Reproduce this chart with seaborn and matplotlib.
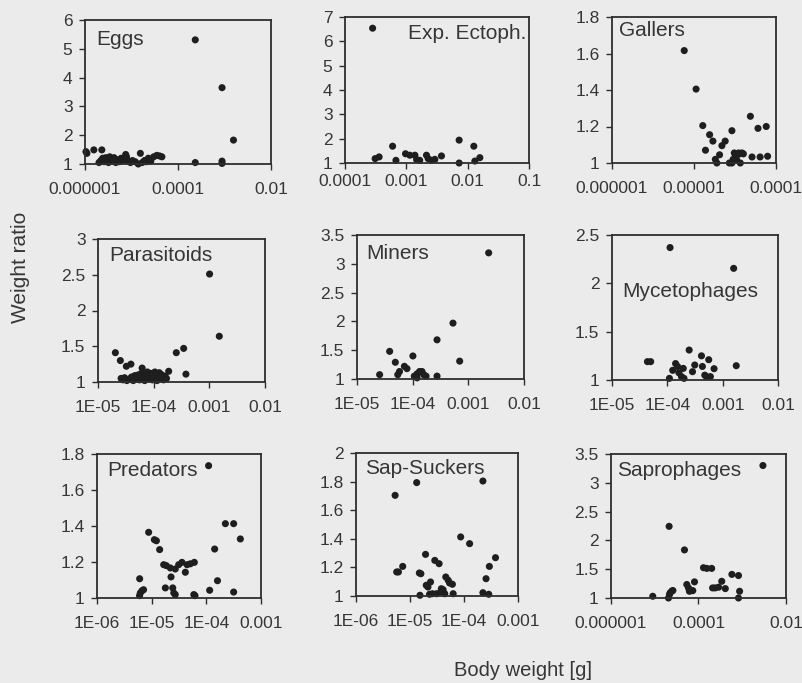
import numpy as np
import pandas as pd
import seaborn as sns
import matplotlib
matplotlib.use("Agg")
import matplotlib.pyplot as plt
from matplotlib.ticker import FixedLocator, FixedFormatter, FuncFormatter, NullLocator

# ---- data (body weight [g], weight ratio) ----
eggs_x = [1.05e-6, 1.1e-6, 1.55e-6, 2.3e-6, 2.0e-6, 2.2e-6, 2.4e-6, 2.6e-6, 2.8e-6, 3.0e-6,
          3.2e-6, 3.4e-6, 3.6e-6, 3.9e-6, 4.2e-6, 4.6e-6, 5.0e-6, 5.5e-6, 6.0e-6, 6.5e-6,
          7.5e-6, 7.8e-6, 8.5e-6, 9.5e-6, 1.05e-5, 1.2e-5, 1.4e-5, 1.55e-5, 1.7e-5, 1.9e-5,
          2.1e-5, 2.3e-5, 2.6e-5, 3.0e-5, 3.5e-5, 4.0e-5, 4.5e-5, 2.35e-4, 2.35e-4, 8.85e-4,
          8.85e-4, 8.85e-4, 1.56e-3]
eggs_y = [1.43, 1.37, 1.49, 1.49, 1.05, 1.12, 1.2, 1.08, 1.22, 1.15,
          1.05, 1.25, 1.18, 1.1, 1.22, 1.05, 1.15, 1.08, 1.2, 1.12,
          1.33, 1.25, 1.1, 1.05, 1.12, 1.08, 1.0, 1.37, 1.05, 1.12,
          1.08, 1.2, 1.1, 1.25, 1.3, 1.28, 1.25, 5.31, 1.05, 3.65,
          1.1, 1.02, 1.83]

exp_x = [2.82e-4, 3.1e-4, 3.6e-4, 5.97e-4, 6.77e-4, 9.7e-4, 1.14e-3, 1.38e-3, 1.47e-3, 1.65e-3,
         2.13e-3, 2.27e-3, 2.57e-3, 2.92e-3, 3.74e-3, 7.26e-3, 7.26e-3, 1.26e-2, 1.31e-2, 1.58e-2]
exp_y = [6.54, 1.18, 1.25, 1.69, 1.11, 1.38, 1.32, 1.32, 1.14, 1.11,
         1.32, 1.18, 1.11, 1.15, 1.29, 1.94, 1.0, 1.69, 1.08, 1.22]

gal_x = [7.6e-6, 1.06e-5, 1.28e-5, 1.38e-5, 1.55e-5, 1.7e-5, 1.82e-5, 1.9e-5, 2.05e-5, 2.19e-5,
         2.4e-5, 2.9e-5, 2.9e-5, 3.1e-5, 3.3e-5, 3.5e-5, 3.67e-5, 3.84e-5, 4.87e-5, 5.1e-5,
         6.03e-5, 6.4e-5, 7.6e-5, 7.9e-5, 3.2e-5, 3.6e-5, 4.0e-5, 2.7e-5, 3.0e-5]
gal_y = [1.616, 1.405, 1.205, 1.07, 1.155, 1.12, 1.02, 1.0, 1.045, 1.095,
         1.12, 1.177, 1.0, 1.055, 1.02, 1.055, 1.0, 1.055, 1.256, 1.033,
         1.19, 1.033, 1.2, 1.037, 1.04, 1.05, 1.05, 1.0, 1.02]

par_x = [2.05e-5, 2.52e-5, 3.23e-5, 3.9e-5, 6.2e-5, 1.86e-4, 2.55e-4, 3.46e-4, 3.8e-4, 1.01e-3,
         1.51e-3, 2.6e-5, 2.8e-5, 3.0e-5, 3.3e-5, 3.6e-5, 4.0e-5, 4.3e-5, 4.6e-5, 5.0e-5,
         5.3e-5, 5.6e-5, 6.0e-5, 6.5e-5, 6.9e-5, 7.3e-5, 7.7e-5, 8.1e-5, 8.6e-5, 9.0e-5,
         9.5e-5, 1.0e-4, 1.05e-4, 1.1e-4, 1.15e-4, 1.2e-4, 1.26e-4, 1.32e-4, 1.4e-4, 1.5e-4,
         1.6e-4, 1.7e-4]
par_y = [1.41, 1.3, 1.22, 1.25, 1.195, 1.15, 1.41, 1.47, 1.11, 2.51,
         1.64, 1.05, 1.03, 1.06, 1.02, 1.04, 1.07, 1.02, 1.09, 1.05,
         1.1, 1.03, 1.12, 1.06, 1.02, 1.1, 1.14, 1.05, 1.08, 1.12,
         1.03, 1.1, 1.14, 1.06, 1.02, 1.09, 1.13, 1.05, 1.1, 1.03,
         1.08, 1.05]

min_x = [2.55e-5, 3.86e-5, 4.88e-5, 5.4e-5, 5.8e-5, 7.1e-5, 7.9e-5, 1.01e-4, 1.07e-4, 1.2e-4,
         1.33e-4, 1.47e-4, 1.58e-4, 1.74e-4, 1.2e-4, 2.74e-4, 2.74e-4, 5.3e-4, 6.99e-4, 2.32e-3]
min_y = [1.075, 1.48, 1.29, 1.075, 1.13, 1.22, 1.18, 1.40, 1.05, 1.09,
         1.13, 1.13, 1.075, 1.05, 1.02, 1.68, 1.05, 1.97, 1.31, 3.19]

myc_x = [4.37e-5, 5.0e-5, 1.12e-4, 1.58e-3, 1.09e-4, 1.25e-4, 1.41e-4, 1.53e-4, 1.62e-4, 1.8e-4,
         1.94e-4, 2.0e-4, 2.48e-4, 2.85e-4, 3.13e-4, 4.14e-4, 4.3e-4, 4.75e-4, 5.1e-4, 5.6e-4,
         6.0e-4, 6.99e-4, 1.76e-3]
myc_y = [1.19, 1.19, 2.37, 2.155, 1.017, 1.10, 1.17, 1.14, 1.075, 1.035,
         1.12, 1.017, 1.31, 1.086, 1.155, 1.25, 1.14, 1.05, 1.035, 1.21,
         1.035, 1.117, 1.148]

pred_x = [6.03e-6, 6.2e-6, 6.65e-6, 7.1e-6, 6.0e-6, 8.81e-6, 1.12e-5, 1.22e-5, 1.40e-5, 1.66e-5,
          1.85e-5, 1.78e-5, 2.19e-5, 2.26e-5, 2.43e-5, 2.54e-5, 2.7e-5, 2.7e-5, 3.12e-5, 3.58e-5,
          4.13e-5, 4.45e-5, 5.1e-5, 6.03e-5, 5.9e-5, 6.2e-5, 1.1e-4, 1.15e-4, 1.42e-4, 1.6e-4,
          2.23e-4, 3.16e-4, 3.16e-4, 4.19e-4]
pred_y = [1.107, 1.028, 1.04, 1.046, 1.013, 1.365, 1.324, 1.318, 1.269, 1.185,
          1.18, 1.056, 1.167, 1.117, 1.056, 1.028, 1.019, 1.161, 1.185, 1.198,
          1.143, 1.185, 1.19, 1.198, 1.019, 1.013, 1.735, 1.043, 1.272, 1.096,
          1.413, 1.413, 1.033, 1.328]

sap_x = [5.3e-6, 5.67e-6, 6.1e-6, 7.33e-6, 1.33e-5, 1.49e-5, 1.59e-5, 1.53e-5, 1.94e-5, 2.0e-5,
         2.15e-5, 2.3e-5, 2.4e-5, 2.6e-5, 2.88e-5, 3.1e-5, 3.46e-5, 3.7e-5, 3.8e-5, 4.1e-5,
         4.4e-5, 4.6e-5, 5.1e-5, 5.4e-5, 6.1e-5, 6.3e-5, 8.68e-5, 1.27e-4, 2.24e-4, 2.24e-4,
         2.56e-4, 2.87e-4, 2.95e-4, 3.83e-4]
sap_y = [1.704, 1.168, 1.168, 1.207, 1.793, 1.161, 1.156, 1.005, 1.291, 1.075,
         1.063, 1.012, 1.098, 1.016, 1.249, 1.016, 1.226, 1.028, 1.051, 1.044,
         1.016, 1.133, 1.11, 1.091, 1.082, 1.016, 1.413, 1.366, 1.804, 1.023,
         1.121, 1.012, 1.207, 1.268]

spr_x = [9.0e-6, 2.06e-5, 2.17e-5, 2.25e-5, 2.45e-5, 2.6e-5, 2.13e-5, 4.78e-5, 5.4e-5, 5.9e-5,
         6.2e-5, 6.8e-5, 7.4e-5, 8.1e-5, 1.3e-4, 1.55e-4, 2.0e-4, 2.1e-4, 2.4e-4, 2.88e-4,
         3.4e-4, 4.1e-4, 5.8e-4, 8.2e-4, 8.7e-4, 8.2e-4, 2.97e-3]
spr_y = [1.03, 1.0, 1.06, 1.09, 1.12, 1.13, 2.244, 1.835, 1.234, 1.175,
         1.117, 1.128, 1.128, 1.28, 1.526, 1.514, 1.514, 1.175, 1.175, 1.187,
         1.29, 1.163, 1.41, 1.39, 1.117, 1.0, 3.3]

# tick labels as printed on the original
ticks_e6_e2 = ([1e-6, 1e-4, 1e-2], ["0.000001", "0.0001", "0.01"])
ticks_e4_e1 = ([1e-4, 1e-3, 1e-2, 1e-1], ["0.0001", "0.001", "0.01", "0.1"])
ticks_e6_e4 = ([1e-6, 1e-5, 1e-4], ["0.000001", "0.00001", "0.0001"])
ticks_e5_e2 = ([1e-5, 1e-4, 1e-3, 1e-2], ["1E-05", "1E-04", "0.001", "0.01"])
ticks_e6_e3 = ([1e-6, 1e-5, 1e-4, 1e-3], ["1E-06", "1E-05", "1E-04", "0.001"])

bg = "#ebebeb"
ink = "#363636"
dot = "#1e1e1e"
frame = "#2e2e2e"

sns.set_style("ticks")
plt.rcParams['font.family'] = ['Liberation Sans', 'DejaVu Sans']

W, H = 803, 683
fig = plt.figure(figsize=(W / 100, H / 100), dpi=100)
fig.patch.set_facecolor(bg)


def panel(box, xs, ys, name, ticks, ymax, ystep, lab_xy, ha='left', va='top', xpad=9):
    l, t, r, b = box
    ax = fig.add_axes([l / W, 1 - b / H, (r - l) / W, (b - t) / H])
    ax.set_facecolor('none')
    ax.set_xscale('log')
    df = pd.DataFrame({'weight': xs, 'ratio': ys})
    sns.scatterplot(data=df, x='weight', y='ratio', ax=ax, s=26, color=dot,
                    edgecolor='none', linewidth=0, clip_on=False, legend=False)
    tpos, tlab = ticks
    ax.set_xlim(tpos[0], tpos[-1])
    ax.xaxis.set_major_locator(FixedLocator(tpos))
    ax.xaxis.set_major_formatter(FixedFormatter(tlab))
    ax.xaxis.set_minor_locator(NullLocator())
    ax.set_ylim(1, ymax)
    ax.yaxis.set_major_locator(FixedLocator(np.arange(1, ymax + 1e-9, ystep)))
    ax.yaxis.set_major_formatter(FuncFormatter(lambda v, p: "%g" % round(v, 2)))
    ax.set_xlabel('')
    ax.set_ylabel('')
    for sp in ax.spines.values():
        sp.set_visible(True)
        sp.set_color(frame)
        sp.set_linewidth(1.3)
    ax.tick_params(axis='both', direction='out', length=4, width=1, color=frame,
                   labelcolor=ink, labelsize=12.5)
    ax.tick_params(axis='x', pad=xpad)
    ax.tick_params(axis='y', pad=5)
    ax.text(lab_xy[0], lab_xy[1], name, transform=ax.transAxes, ha=ha, va=va,
            fontsize=15, color=ink)
    return ax


panel((85, 20, 271, 164), eggs_x, eggs_y, "Eggs", ticks_e6_e2, 6, 1, (0.06, 0.93))
panel((345, 17, 529, 163), exp_x, exp_y, "Exp. Ectoph.", ticks_e4_e1, 7, 1, (0.985, 0.95),
      ha='right', xpad=4)
panel((612, 17, 776, 163), gal_x, gal_y, "Gallers", ticks_e6_e4, 1.8, 0.2, (0.04, 0.97))
panel((98, 239, 265, 382), par_x, par_y, "Parasitoids", ticks_e5_e2, 3, 0.5, (0.066, 0.95))
panel((357, 235, 524, 379), min_x, min_y, "Miners", ticks_e5_e2, 3.5, 0.5, (0.054, 0.94))
panel((612, 235, 778, 380), myc_x, myc_y, "Mycetophages", ticks_e5_e2, 2.5, 0.5, (0.47, 0.61),
      ha='center', va='center')
panel((97, 454, 261, 598), pred_x, pred_y, "Predators", ticks_e6_e3, 1.8, 0.2, (0.06, 0.95))
panel((356, 453, 518, 596), sap_x, sap_y, "Sap-Suckers", ticks_e6_e3, 2, 0.2, (0.055, 0.96))
panel((611, 454, 786, 598), spr_x, spr_y, "Saprophages", ticks_e6_e2, 3.5, 0.5, (0.035, 0.95))

fig.text(21 / W, 1 - 267 / H, "Weight ratio", rotation=90, ha='center', va='center',
         fontsize=15, color=ink)
fig.text(523 / W, 1 - 671 / H, "Body weight [g]", ha='center', va='center',
         fontsize=14.5, color=ink)

fig.savefig("out.png", dpi=100, facecolor=bg)
